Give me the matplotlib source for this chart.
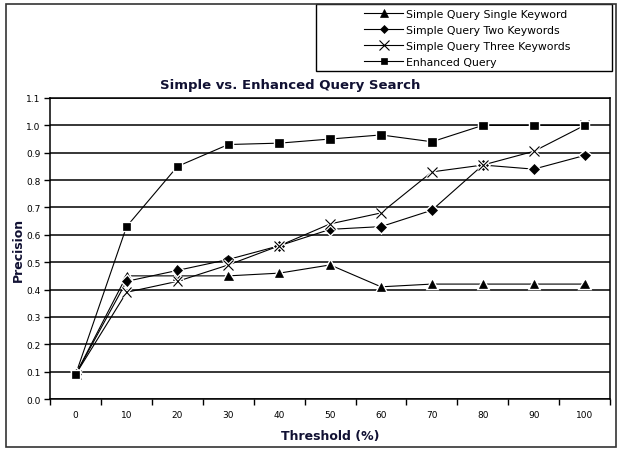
import matplotlib
matplotlib.use("Agg")
from matplotlib import pyplot as plt
import matplotlib.patheffects as pe
import numpy as np

thresholds = ["0", "10", "20", "30", "40", "50", "60", "70", "80", "90", "100"]
single_kw = [0.09, 0.45, 0.45, 0.45, 0.46, 0.49, 0.41, 0.42, 0.42, 0.42, 0.42]
two_kw = [0.09, 0.43, 0.47, 0.51, 0.56, 0.62, 0.63, 0.69, 0.855, 0.84, 0.89]
three_kw = [0.09, 0.39, 0.43, 0.49, 0.56, 0.64, 0.68, 0.83, 0.855, 0.905, 1.0]
enhanced = [0.09, 0.63, 0.85, 0.93, 0.935, 0.95, 0.965, 0.94, 1.0, 1.0, 1.0]

series = [
    ("Simple Query Single Keyword", single_kw, "^", 6),
    ("Simple Query Two Keywords", two_kw, "D", 5),
    ("Simple Query Three Keywords", three_kw, "x", 7),
    ("Enhanced Query", enhanced, "s", 5.5),
]

fig = plt.figure(figsize=(6.2, 4.52), dpi=100)
ax = fig.add_axes([0.081, 0.115, 0.903, 0.666])

x = np.arange(len(thresholds))
halo = [pe.withStroke(linewidth=2.5, foreground="white")]
handles = []
for label, vals, mk, ms in series:
    ax.plot(x, vals, color="black", lw=0.8, zorder=3)
    ax.plot(x, vals, ls="none", marker=mk, ms=ms, color="black",
            mew=0.8 if mk == "x" else 0.5, zorder=4, path_effects=halo)
    h, = ax.plot([], [], color="black", lw=0.8, marker=mk, ms=ms - 0.5,
                 mew=0.8 if mk == "x" else 0.5, label=label)
    handles.append(h)

ax.set_xlim(-0.5, 10.5)
ax.set_ylim(0, 1.1)
ax.set_yticks(np.arange(0, 1.11, 0.1))
ax.set_yticklabels(["%.1f" % v for v in np.arange(0, 1.11, 0.1)], fontsize=6.5)
ax.yaxis.grid(True, color="black", lw=1.1)
ax.set_axisbelow(True)
ax.set_xticks(x)
ax.set_xticklabels(thresholds, fontsize=6.5)
ax.tick_params(axis="x", which="major", length=0, pad=8)
ax.set_xticks(np.arange(-0.5, 10.6, 1), minor=True)
ax.tick_params(axis="x", which="minor", length=4, width=1, direction="out")
ax.tick_params(axis="y", length=4, width=1, direction="out", pad=3)
for side in ["left", "bottom", "right", "top"]:
    ax.spines[side].set_linewidth(1.1)

fig.text(0.468, 0.81, "Simple vs. Enhanced Query Search", ha="center", va="center",
         fontsize=9.5, fontweight="bold", color="#111133")
ax.set_xlabel("Threshold (%)", fontsize=9, fontweight="bold", color="#111133", labelpad=7)
ax.set_ylabel("Precision", fontsize=9, fontweight="bold", color="#111133", labelpad=1)

# legend box drawn separately so it can be wider than its entries
leg_box = plt.Rectangle((316 / 620, 1 - 72 / 452), 296 / 620, 67 / 452,
                        transform=fig.transFigure, fill=False, edgecolor="black", lw=1.0)
fig.patches.append(leg_box)
fig.legend(handles=handles, loc="upper left", bbox_to_anchor=(362 / 620, 1 - 8 / 452),
           fontsize=7.8, frameon=False, borderaxespad=0, handlelength=3.6,
           handletextpad=0.3, labelspacing=0.55, borderpad=0.2)

border = plt.Rectangle((0.01, 0.008), 0.983, 0.981, transform=fig.transFigure,
                       fill=False, edgecolor="#333333", lw=1.2)
fig.patches.append(border)

plt.savefig("out.png", dpi=100)
